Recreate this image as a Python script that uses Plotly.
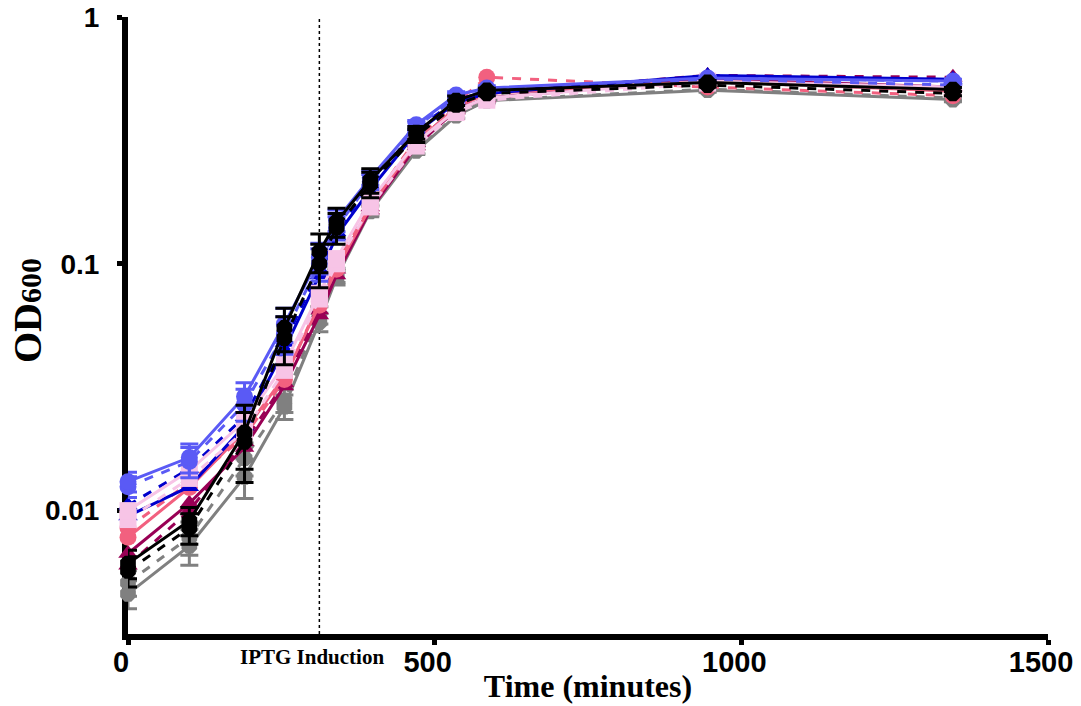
import plotly.graph_objects as go

time_min = [0, 100, 190, 255, 312, 340, 395, 470, 535, 585, 945, 1345]

gray_dash = [0.0051, 0.0078, 0.0163, 0.028, 0.062, 0.090, 0.165, 0.29, 0.40, 0.46, 0.51, 0.47]
gray_solid = [0.0046, 0.0072, 0.0137, 0.0264, 0.058, 0.088, 0.163, 0.287, 0.398, 0.458, 0.505, 0.463]
maroon_dash = [0.0060, 0.0100, 0.019, 0.033, 0.065, 0.095, 0.170, 0.31, 0.43, 0.49, 0.58, 0.57]
maroon_solid = [0.0067, 0.0107, 0.018, 0.032, 0.062, 0.090, 0.165, 0.30, 0.42, 0.47, 0.56, 0.52]
salmon_dash = [0.0085, 0.0130, 0.020, 0.034, 0.070, 0.100, 0.175, 0.32, 0.45, 0.57, 0.52, 0.48]
salmon_solid = [0.0078, 0.0124, 0.021, 0.035, 0.068, 0.095, 0.170, 0.31, 0.43, 0.49, 0.55, 0.50]
dblue_dash = [0.0105, 0.0148, 0.024, 0.048, 0.095, 0.135, 0.210, 0.35, 0.46, 0.50, 0.57, 0.55]
dblue_solid = [0.0095, 0.0125, 0.022, 0.045, 0.090, 0.130, 0.200, 0.34, 0.45, 0.49, 0.58, 0.56]
pink_dash = [0.0092, 0.0135, 0.021, 0.037, 0.072, 0.100, 0.170, 0.30, 0.41, 0.46, 0.54, 0.51]
pink_solid = [0.0100, 0.0145, 0.023, 0.039, 0.076, 0.105, 0.180, 0.31, 0.42, 0.47, 0.55, 0.52]
blue_dash = [0.0125, 0.0158, 0.027, 0.052, 0.100, 0.140, 0.215, 0.36, 0.47, 0.50, 0.56, 0.53]
blue_solid = [0.0131, 0.0164, 0.029, 0.057, 0.106, 0.150, 0.223, 0.366, 0.483, 0.516, 0.566, 0.55]
black_dash = [0.0057, 0.0085, 0.019, 0.050, 0.100, 0.140, 0.210, 0.33, 0.44, 0.49, 0.53, 0.49]
black_solid = [0.0061, 0.0091, 0.0207, 0.055, 0.112, 0.148, 0.218, 0.34, 0.458, 0.504, 0.543, 0.508]

black_err = [0.0008, 0.0012, 0.006, 0.011, 0.02, 0.02, 0.025, 0.02, 0.02, 0.01, 0.01, 0.01]
gray_err = [0.0006, 0.0012, 0.0025, 0.003, 0.005, 0.006, 0.008, 0.01, 0.01, 0.01, 0.01, 0.01]
blue_err = [0.0012, 0.0022, 0.004, 0.009, 0.015, 0.015, 0.015, 0.015, 0.015, 0.01, 0.01, 0.01]

series = [
    ("gray dashed", gray_dash, "#808080", "dash", "octagon", gray_err),
    ("gray", gray_solid, "#808080", "solid", "octagon", gray_err),
    ("maroon dashed", maroon_dash, "#990055", "dash", "triangle-up", None),
    ("maroon", maroon_solid, "#990055", "solid", "triangle-up", None),
    ("salmon dashed", salmon_dash, "#F2607F", "dash", "circle", None),
    ("salmon", salmon_solid, "#F2607F", "solid", "circle", None),
    ("dark blue dashed", dblue_dash, "#0000CC", "dash", "triangle-up", None),
    ("dark blue", dblue_solid, "#0000CC", "solid", "triangle-up", None),
    ("pink dashed", pink_dash, "#F7C4E6", "dash", "square", None),
    ("pink", pink_solid, "#F7C4E6", "solid", "square", None),
    ("blue dashed", blue_dash, "#5A5AF5", "dash", "circle", blue_err),
    ("blue", blue_solid, "#5A5AF5", "solid", "circle", blue_err),
    ("black dashed", black_dash, "#000000", "dash", "octagon", black_err),
    ("black", black_solid, "#000000", "solid", "octagon", black_err),
]

fig = go.Figure()
for name, vals, col, dash, sym, err in series:
    kw = {}
    if err is not None:
        kw["error_y"] = dict(type="data", array=err, visible=True, color=col,
                             thickness=3, width=9)
    fig.add_trace(go.Scatter(
        x=time_min, y=vals, name=name, mode="lines+markers",
        line=dict(color=col, width=3, dash=dash),
        marker=dict(color=col, size=17, symbol=sym),
        cliponaxis=False, **kw))

induction_time = 312
fig.add_shape(type="line", x0=induction_time, x1=induction_time, xref="x",
              y0=0, y1=1, yref="paper",
              line=dict(color="#000000", width=1.5, dash="dot"), layer="below")
fig.add_annotation(x=300, xref="x", y=-0.037, yref="paper", yanchor="middle",
                   text="<b>IPTG Induction</b>", showarrow=False,
                   font=dict(family="Liberation Serif", size=21, color="#000000"))
fig.add_annotation(x=-0.1098, xref="paper", y=0.525, yref="paper",
                   xanchor="center", yanchor="middle", textangle=-90,
                   text="<b>OD<span style='font-size:30px'>600</span></b>", showarrow=False,
                   font=dict(family="Liberation Serif", size=40, color="#000000"))

fig.update_layout(
    width=1081, height=706,
    margin=dict(l=128, r=33, t=17, b=72),
    plot_bgcolor="white", paper_bgcolor="white",
    showlegend=False,
    xaxis=dict(range=[0, 1500], tickvals=[0, 500, 1000, 1500],
               showline=True, linecolor="black", linewidth=6,
               ticks="outside", ticklen=5, tickwidth=5, tickcolor="black",
               showgrid=False, zeroline=False, layer="below traces",
               automargin=False, ticklabelshift=-7, ticklabelstandoff=-8,
               tickfont=dict(family="Liberation Sans", size=29, color="black", weight="bold"),
               title=dict(text="<b>Time (minutes)</b>", standoff=0,
                          font=dict(family="Liberation Serif", size=32, color="black"))),
    yaxis=dict(type="log", range=[-2.5, 0], tickvals=[0.01, 0.1, 1],
               ticktext=["0.01", "0.1", "1"],
               showline=True, linecolor="black", linewidth=6,
               ticks="outside", ticklen=5, tickwidth=5, tickcolor="black",
               showgrid=False, zeroline=False, layer="below traces",
               automargin=False, ticklabelstandoff=12,
               tickfont=dict(family="Liberation Sans", size=28, color="black", weight="bold")),
)

fig.write_html("out.html")
